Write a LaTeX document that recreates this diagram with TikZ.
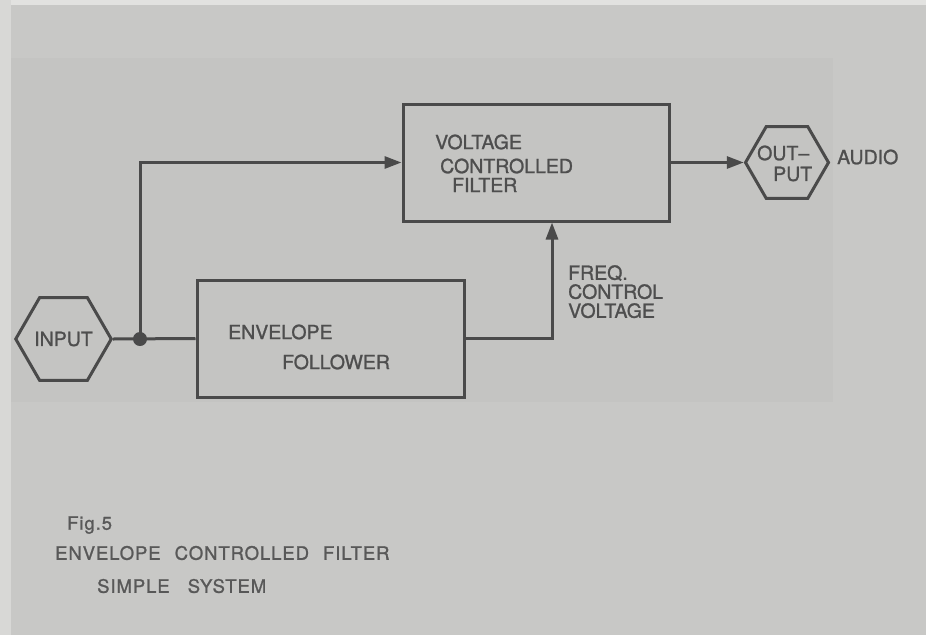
\documentclass[tikz,border=0pt]{standalone}
\usepackage{fontspec}
\setmainfont{TeX Gyre Heros}[FakeBold=1.2]
\newfontfamily\capfont{TeX Gyre Heros}[LetterSpace=5,FakeBold=1.2]
\usetikzlibrary{shapes.geometric,arrows.meta,calc}
\definecolor{bgA}{HTML}{C8C8C6}
\definecolor{bgH}{HTML}{C4C4C2}
\definecolor{bgL}{HTML}{D8D8D6}
\definecolor{bgT}{HTML}{E2E2E0}
\definecolor{ln}{HTML}{4A4A4A}
\definecolor{tx}{HTML}{4E4E4E}
\definecolor{ctx}{HTML}{585858}
\begin{document}
\begin{tikzpicture}[x=1pt,y=-1pt,
  every node/.style={text=tx},
  lbl/.style={font=\fontsize{19.5}{19.5}\selectfont, inner sep=0pt, anchor=west},
  captext/.style={font=\capfont\fontsize{18.5}{18.5}\selectfont, text=ctx, inner sep=0pt, anchor=west},
  blockbox/.style={draw=ln, line width=3pt, rectangle, inner sep=0pt},
  hexnode/.style={draw=ln, line width=3pt, regular polygon, regular polygon sides=6,
     minimum size=83pt, inner sep=0pt, font=\fontsize{19.5}{19.5}\selectfont},
  wire/.style={draw=ln, line width=3pt},
  arr/.style={wire, -{Triangle[length=17pt,width=12pt]}}
]
\useasboundingbox (0,0) rectangle (926,635);
% background
\fill[bgA] (0,0) rectangle (926,635);
\fill[bgT] (0,0) rectangle (926,5);
\fill[bgH] (11,58) rectangle (833,402);
\fill[bgL] (0,0) rectangle (11,635);

% nodes
\node[hexnode] (in) at (63.5,339) {INPUT};
\node[blockbox, minimum width=267pt, minimum height=117pt] (env) at (330.5,338.5) {};
\node[blockbox, minimum width=266pt, minimum height=117pt] (vcf) at (536,162.5) {};
\node[hexnode] (out) at (787,162.5) {};

% labels
\node[lbl] (vt1) at (435,142) {VOLTAGE};
\node[lbl] (vt2) at (440,166) {CONTROLLED};
\node[lbl] (vt3) at (452,185) {FILTER};
\node[lbl] (ef1) at (228,332) {ENVELOPE};
\node[lbl] (ef2) at (282,362) {FOLLOWER};
\node[lbl] (o1) at (757,153) {OUT–};
\node[lbl] (o2) at (773,174) {PUT};
\node[lbl] (aud) at (837,157) {AUDIO};
\node[lbl, anchor=north west, align=left, font=\fontsize{19.5}{19}\selectfont] (fq) at (568,265) {FREQ.\\CONTROL\\VOLTAGE};

% connectors
\coordinate (j) at (140,339);
\coordinate (fc) at (552,0);
\draw[wire] (in.east) -- (env.west);
\draw[arr] (j) |- (vcf.west);
\fill[ln] (j) circle (7pt);
\draw[arr] (env.east) -| (fc |- vcf.south);
\draw[arr] (vcf.east) -- (out.west);

% caption
\node[captext] (c1) at (67,525) {Fig.5};
\node[captext] (c2) at (55,553) {ENVELOPE\hspace{8pt} CONTROLLED\hspace{8pt} FILTER};
\node[captext] (c3) at (97,586) {SIMPLE\hspace{12pt} SYSTEM};
\end{tikzpicture}
\end{document}
